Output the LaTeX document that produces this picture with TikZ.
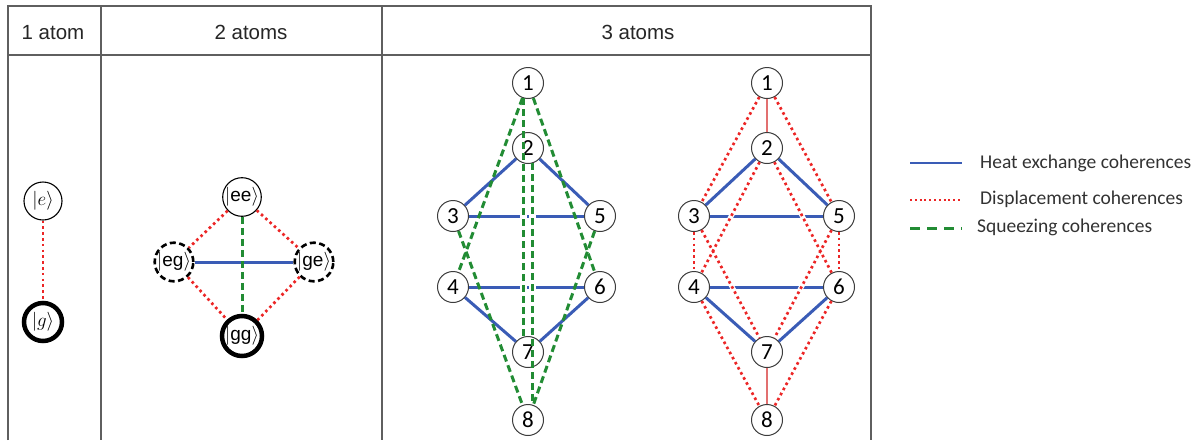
\RequirePackage{fix-cm}
\documentclass[tikz,border=0pt]{standalone}
\usepackage{fontspec}
\setsansfont{Liberation Sans}
\newfontfamily\calib{Carlito}
\definecolor{heatblue}{RGB}{58,92,182}
\definecolor{dispred}{RGB}{236,38,38}
\definecolor{sqgreen}{RGB}{34,140,52}
\definecolor{thinred}{RGB}{226,112,112}
\definecolor{tabgray}{RGB}{95,95,95}
\definecolor{ringgray}{RGB}{60,60,60}
\definecolor{legtext}{RGB}{50,50,50}
\newcommand{\myket}[1]{$\Big|\mbox{\sffamily #1}\Big\rangle$}
\tikzset{
  tab/.style={draw=tabgray, line width=1.4pt},
  hdr/.style={anchor=base, inner sep=0pt, font=\sffamily\fontsize{20.5}{22}\selectfont, text=black!85},
  st/.style={circle, draw=black, fill=white, line width=1.1pt, minimum size=38pt, inner sep=0pt},
  stthick/.style={st, line width=4.5pt},
  stdash/.style={st, line width=2.6pt, dash pattern=on 6pt off 3.5pt},
  kettxt/.style={font=\fontsize{19}{19}\selectfont},
  num/.style={circle, draw=ringgray, fill=white, line width=1pt, minimum size=31pt, inner sep=0pt, font=\calib\fontsize{23}{23}\selectfont},
  heat/.style={draw=heatblue, line width=3pt},
  disp/.style={draw=dispred, line width=2.7pt, line cap=butt, dash pattern=on 2.6pt off 3.2pt},
  sq/.style={draw=sqgreen, line width=3pt, dash pattern=on 7pt off 4pt},
  thinr/.style={draw=thinred, line width=1.3pt},
  casing/.style={draw=white, line width=7pt},
  legtxt/.style={anchor=west, inner sep=0pt, font=\calib\fontsize{19.5}{20}\selectfont, text=legtext},
}
\begin{document}
\begin{tikzpicture}[x=1pt,y=-1pt]
\useasboundingbox (0,0) rectangle (1203,440);

% table
\draw[tab] (8,440) -- (8,6) -- (871,6) -- (871,440);
\draw[tab] (8,55) -- (871,55);
\draw[tab] (101,6) -- (101,440);
\draw[tab] (382,6) -- (382,440);
\node[hdr] (h1) at (53,39) {1 atom};
\node[hdr] (h2) at (251,39) {2 atoms};
\node[hdr] (h3) at (638,39) {3 atoms};

% 1 atom
\node[st, font=\fontsize{19}{19}\selectfont] (e) at (43,201) {$|e\rangle$};
\node[stthick, font=\fontsize{19}{19}\selectfont] (g) at (43,322) {$|g\rangle$};
\draw[disp] (e) -- (g);

% 2 atoms
\node[st, kettxt] (ee) at (242,197) {\myket{ee}};
\node[stdash, kettxt] (eg) at (174,262) {\myket{eg}};
\node[stdash, kettxt] (ge) at (314,262) {\myket{ge}};
\node[stthick, kettxt, minimum size=40pt] (gg) at (242,336) {\myket{gg}};
\draw[disp] (ee) -- (eg);
\draw[disp] (ee) -- (ge);
\draw[disp] (eg) -- (gg);
\draw[disp] (ge) -- (gg);
\draw[heat] (eg) -- (ge);
\draw[sq] (ee) -- (gg);

% 3 atoms, left graph (heat + squeezing)
\node[num] (a1) at (528,83) {1};
\node[num] (a2) at (528,148) {2};
\node[num] (a3) at (453,216) {3};
\node[num] (a5) at (600,216) {5};
\node[num] (a4) at (453,287) {4};
\node[num] (a6) at (600,287) {6};
\node[num] (a7) at (528,352) {7};
\node[num] (a8) at (528,420) {8};
\draw[heat] (a2) -- (a3);
\draw[heat] (a2) -- (a5);
\draw[heat] (a3) -- (a5);
\draw[heat] (a4) -- (a6);
\draw[heat] (a4) -- (a7);
\draw[heat] (a6) -- (a7);
\begin{scope}
  \clip (500,205) rectangle (556,227) (500,276) rectangle (556,298);
  \draw[casing] (a1.-108) -- (a7.108);
  \draw[casing] (a2.-72) -- (a8.72);
\end{scope}
\draw[sq] (a1) -- (a4);
\draw[sq] (a1) -- (a6);
\draw[sq] (a1.-108) -- (a7.108);
\draw[sq] (a2.-72) -- (a8.72);
\draw[sq] (a3) -- (a8);
\draw[sq] (a5) -- (a8);

% 3 atoms, right graph (heat + displacement)
\node[num] (b1) at (767,83) {1};
\node[num] (b2) at (767,148) {2};
\node[num] (b3) at (694,216) {3};
\node[num] (b5) at (839,216) {5};
\node[num] (b4) at (694,287) {4};
\node[num] (b6) at (839,287) {6};
\node[num] (b7) at (767,352) {7};
\node[num] (b8) at (767,420) {8};
\draw[thinr] (b1) -- (b2);
\draw[thinr] (b7) -- (b8);
\draw[heat] (b2) -- (b3);
\draw[heat] (b2) -- (b5);
\draw[heat] (b3) -- (b5);
\draw[heat] (b4) -- (b6);
\draw[heat] (b4) -- (b7);
\draw[heat] (b6) -- (b7);
\begin{scope}
  \clip (712,208) rectangle (822,224) (712,279) rectangle (822,295);
  \draw[casing, line width=5pt] (b2) -- (b4);
  \draw[casing, line width=5pt] (b2) -- (b6);
  \draw[casing, line width=5pt] (b3) -- (b7);
  \draw[casing, line width=5pt] (b5) -- (b7);
\end{scope}
\draw[disp] (b1) -- (b3);
\draw[disp] (b1) -- (b5);
\draw[disp] (b2) -- (b4);
\draw[disp] (b2) -- (b6);
\draw[disp] (b3) -- (b4);
\draw[disp] (b5) -- (b6);
\draw[disp] (b3) -- (b7);
\draw[disp] (b5) -- (b7);
\draw[disp] (b4) -- (b8);
\draw[disp] (b6) -- (b8);

% legend
\coordinate (l1a) at (910,163); \coordinate (l1b) at (962,163);
\coordinate (l2a) at (910,200); \coordinate (l2b) at (962,200);
\coordinate (l3a) at (910,228); \coordinate (l3b) at (962,228);
\draw[heat, line width=2.6pt] (l1a) -- (l1b);
\draw[disp, line width=2.2pt, dash pattern=on 2pt off 2.8pt] (l2a) -- (l2b);
\draw[sq, dash pattern=on 10pt off 7pt] (l3a) -- (l3b);
\node[legtxt] (t1) at (980,163) {Heat exchange coherences};
\node[legtxt] (t2) at (980,199) {Displacement coherences};
\node[legtxt] (t3) at (977,227) {Squeezing coherences};
\end{tikzpicture}
\end{document}
